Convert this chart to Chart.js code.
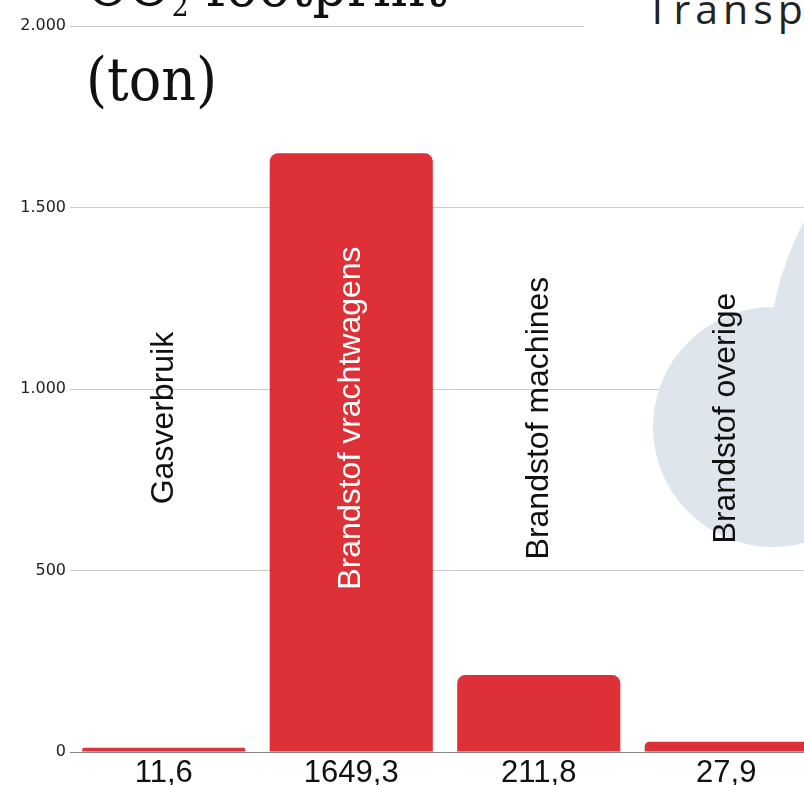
<!DOCTYPE html>
<html>
<head>
<meta charset="utf-8">
<script src="https://cdn.jsdelivr.net/npm/chart.js@4/dist/chart.umd.min.js"></script>
<style>
  html, body { margin: 0; padding: 0; background: #fff; }
  body { width: 804px; height: 785px; overflow: hidden; position: relative; }
  #wrap { position: absolute; left: 0; top: 0; width: 830px; height: 785px; }
  .title { position: absolute; left: 86px; top: -64px; font-family: "DejaVu Serif Condensed", "DejaVu Serif", serif; font-stretch: condensed; font-size: 60px; line-height: 89px; color: #111; white-space: nowrap; }
  .title .l1 { position: relative; top: 5px; }
  .title .sub { font-size: 30px; position: relative; top: 10px; }
  .logo { position: absolute; left: 584px; top: 0; width: 240px; height: 44px; background: #fff; overflow: hidden; }
  .logo span { position: absolute; left: 62px; top: -20px; font-family: "Open Sans", sans-serif; font-weight: 400; font-size: 41px; letter-spacing: 5px; color: #222; white-space: nowrap; }
</style>
</head>
<body>
<div id="wrap"><canvas id="c" width="830" height="785"></canvas></div>
<div class="title"><span class="l1">CO<span class="sub">2</span> footprint</span><br>(ton)</div>
<div class="logo"><span>Transport</span></div>
<script>
const categories = ['Gasverbruik', 'Brandstof vrachtwagens', 'Brandstof machines', 'Brandstof overige'];
const values = [11.6, 1649.3, 211.8, 27.9];
const yTickValues = [0, 500, 1000, 1500, 2000];
const labelCenterValue = 920;

function fmtThousands(v) {
  return String(v).replace(/\B(?=(\d{3})+(?!\d))/g, '.');
}
function fmtDecimal(v) {
  return v.toFixed(1).replace('.', ',');
}

const cloudPlugin = {
  id: 'cloud',
  beforeDatasetsDraw(chart) {
    const ctx = chart.ctx;
    ctx.save();
    ctx.fillStyle = '#DFE5EC';
    ctx.beginPath();
    ctx.arc(773, 427, 120, 0, Math.PI * 2);
    ctx.fill();
    ctx.beginPath();
    ctx.arc(1076, 366, 308, 0, Math.PI * 2);
    ctx.fill();
    ctx.restore();
  }
};

const namePlugin = {
  id: 'names',
  afterDatasetsDraw(chart) {
    const ctx = chart.ctx;
    const meta = chart.getDatasetMeta(0);
    const yc = chart.scales.y.getPixelForValue(labelCenterValue);
    ctx.save();
    ctx.font = '32px "Liberation Sans", Arial, sans-serif';
    ctx.textAlign = 'center';
    ctx.textBaseline = 'middle';
    meta.data.forEach((bar, i) => {
      const w = ctx.measureText(categories[i]).width;
      const inside = bar.y < yc - w / 2;
      ctx.save();
      ctx.translate(bar.x, yc);
      ctx.rotate(-Math.PI / 2);
      ctx.fillStyle = inside ? '#ffffff' : '#111111';
      ctx.fillText(categories[i], 0, 0);
      ctx.restore();
    });
    ctx.restore();
  }
};

new Chart(document.getElementById('c'), {
  type: 'bar',
  data: {
    labels: categories,
    datasets: [{
      data: values,
      backgroundColor: '#DD3137',
      borderRadius: { topLeft: 8, topRight: 8, bottomLeft: 0, bottomRight: 0 },
      borderSkipped: 'bottom',
      categoryPercentage: 1.0,
      barPercentage: 0.87
    }]
  },
  options: {
    responsive: false,
    animation: false,
    devicePixelRatio: 1,
    layout: { padding: { top: 26, right: 10, left: 0, bottom: 0 } },
    plugins: { legend: { display: false }, tooltip: { enabled: false }, title: { display: false } },
    scales: {
      x: {
        grid: { display: false, drawTicks: false },
        border: { display: true, color: '#888888', width: 1 },
        ticks: {
          padding: 3,
          color: '#111',
          font: { family: '"Liberation Sans", Arial, sans-serif', size: 31 },
          maxRotation: 0,
          autoSkip: false,
          callback: (v, i) => fmtDecimal(values[i])
        },
        afterFit(scale) { scale.height = 33; }
      },
      y: {
        min: 0,
        max: 2000,
        grid: { color: '#CCCCCC', lineWidth: 1, drawTicks: false },
        border: { display: false },
        ticks: {
          padding: 4,
          color: '#222',
          font: { family: '"DejaVu Sans", sans-serif', size: 16 },
          callback: (v) => fmtThousands(v)
        },
        afterBuildTicks(scale) { scale.ticks = yTickValues.map(v => ({ value: v })); },
        afterFit(scale) { scale.width = 70; }
      }
    }
  },
  plugins: [cloudPlugin, namePlugin]
});
</script>
</body>
</html>
